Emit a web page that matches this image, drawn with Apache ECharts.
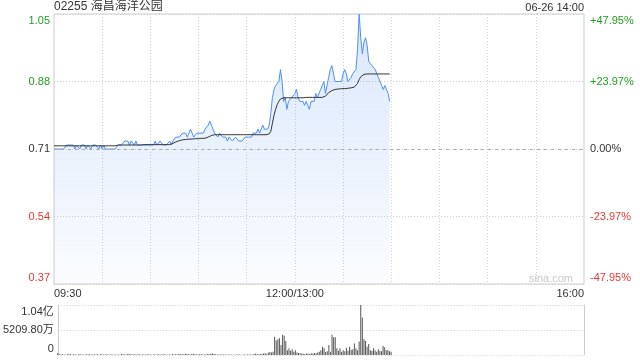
<!DOCTYPE html>
<html>
<head>
<meta charset="utf-8">
<script src="https://cdn.jsdelivr.net/npm/echarts@6/dist/echarts.min.js"></script>
<style>
html,body{margin:0;padding:0;background:#fff;}
#chart{width:640px;height:360px;}
</style>
</head>
<body>
<div id="chart"></div>
<script>
const PREV_CLOSE = 0.71;
const titleText = '02255 海昌海洋公园';
const dateText = '06-26 14:00';
const timeLabels = ['09:30', '12:00/13:00', '16:00'];
const priceLabels = ['0.37', '0.54', '0.71', '0.88', '1.05'];
const pctLabels = ['-47.95%', '-23.97%', '0.00%', '+23.97%', '+47.95%'];
const volLabels = ['0', '5209.80万', '1.04亿'];

const price = [
0.71,0.71,0.71,0.71,0.71,0.71,0.71,0.71,0.72,0.72,
0.72,0.72,0.72,0.71,0.72,0.72,0.71,0.72,0.72,0.72,
0.71,0.72,0.72,0.71,0.72,0.72,0.72,0.72,0.71,0.72,
0.71,0.72,0.71,0.71,0.71,0.71,0.71,0.71,0.71,0.71,
0.72,0.72,0.72,0.72,0.73,0.73,0.73,0.72,0.73,0.73,
0.72,0.73,0.72,0.72,0.72,0.72,0.72,0.72,0.72,0.72,
0.72,0.72,0.72,0.73,0.72,0.72,0.73,0.73,0.72,0.72,
0.72,0.72,0.73,0.72,0.73,0.73,0.74,0.74,0.74,0.74,
0.75,0.75,0.75,0.74,0.75,0.76,0.75,0.74,0.74,0.75,
0.75,0.75,0.75,0.75,0.76,0.76,0.77,0.78,0.77,0.76,
0.75,0.75,0.74,0.75,0.75,0.74,0.74,0.74,0.73,0.74,
0.74,0.73,0.73,0.74,0.74,0.73,0.73,0.73,0.73,0.74,
0.74,0.74,0.74,0.74,0.75,0.75,0.75,0.76,0.75,0.76,
0.77,0.76,0.76,0.76,0.77,0.80,0.84,0.86,0.87,0.87,
0.88,0.91,0.88,0.83,0.84,0.81,0.83,0.83,0.84,0.84,
0.85,0.86,0.84,0.83,0.83,0.83,0.82,0.83,0.82,0.81,
0.83,0.83,0.83,0.85,0.84,0.84,0.86,0.87,0.88,0.85,
0.85,0.89,0.91,0.92,0.92,0.88,0.88,0.88,0.88,0.88,
0.90,0.91,0.90,0.88,0.88,0.89,0.90,0.90,0.91,0.96,
1.05,0.99,0.95,0.98,0.99,0.97,0.93,0.93,0.92,0.92,
0.91,0.91,0.89,0.89,0.87,0.86,0.87,0.87,0.85,0.83
];

const avgPrice = [
0.718,0.718,0.718,0.718,0.718,0.718,0.718,0.718,0.718,0.718,
0.718,0.718,0.718,0.718,0.718,0.718,0.718,0.718,0.718,0.718,
0.718,0.718,0.718,0.718,0.718,0.718,0.718,0.718,0.718,0.718,
0.718,0.718,0.718,0.718,0.718,0.718,0.718,0.718,0.718,0.718,
0.720,0.720,0.720,0.720,0.720,0.720,0.720,0.720,0.720,0.720,
0.720,0.720,0.720,0.720,0.720,0.720,0.721,0.721,0.721,0.721,
0.721,0.721,0.721,0.721,0.721,0.721,0.721,0.721,0.721,0.721,
0.721,0.721,0.721,0.723,0.724,0.726,0.728,0.730,0.731,0.732,
0.733,0.733,0.734,0.734,0.735,0.735,0.735,0.736,0.736,0.736,
0.736,0.737,0.737,0.737,0.737,0.738,0.740,0.742,0.744,0.745,
0.746,0.746,0.746,0.746,0.746,0.746,0.746,0.746,0.746,0.746,
0.746,0.746,0.746,0.746,0.746,0.746,0.746,0.746,0.746,0.746,
0.746,0.746,0.746,0.746,0.746,0.746,0.746,0.746,0.746,0.746,
0.746,0.746,0.746,0.746,0.748,0.755,0.775,0.795,0.810,0.822,
0.830,0.836,0.838,0.839,0.839,0.839,0.839,0.839,0.839,0.839,
0.839,0.839,0.839,0.839,0.839,0.839,0.840,0.840,0.840,0.840,
0.840,0.840,0.840,0.840,0.840,0.840,0.840,0.840,0.840,0.843,
0.848,0.852,0.855,0.857,0.858,0.860,0.860,0.861,0.861,0.862,
0.862,0.862,0.863,0.863,0.863,0.864,0.864,0.866,0.868,0.875,
0.885,0.892,0.896,0.898,0.899,0.899,0.899,0.899,0.899,0.899,
0.899,0.899,0.899,0.899,0.899,0.899,0.899,0.899,0.899,0.899
];

// volume in 万 (10,000 shares)
const volume = [
420,150,90,180,60,120,80,210,140,70,
160,90,50,130,200,70,110,60,150,90,
180,60,120,80,100,150,70,190,60,110,
90,140,60,80,120,50,100,70,130,60,
200,150,90,120,260,180,140,90,170,110,
80,160,70,120,90,60,140,80,110,70,
90,130,60,180,80,100,150,170,70,90,
110,60,190,80,150,120,230,180,140,160,
250,200,170,130,190,260,150,120,110,170,
140,120,100,90,210,180,240,320,200,150,
130,110,90,120,100,80,70,90,60,80,
70,60,90,80,100,70,60,80,70,90,
110,100,130,150,250,180,160,200,220,300,
350,200,450,600,500,700,3800,3000,3300,3500,
2100,4200,4000,2900,1000,1400,900,1200,700,1000,
500,400,350,300,250,200,300,250,200,350,
300,400,350,500,700,1000,1700,1400,600,800,
2100,700,4200,3700,3700,1400,900,1400,700,1000,
800,1500,900,1700,1100,1200,2400,1400,1000,2800,
10419.6,7800,3300,2900,1700,2300,1000,850,1400,1000,
700,1200,900,800,1900,1600,1000,1050,800,700
];

const PRICE_STEP = 0.17;
const VOL_STEP = 5209.8;
const TOTAL_POINTS = 331; // 09:30-12:00 and 13:01-16:00
const LABEL_IDX = [0, 150, 330];

const categories = [];
for (let i = 0; i < TOTAL_POINTS; i++) {
  let m = i <= 150 ? 9 * 60 + 30 + i : 13 * 60 + (i - 150);
  const hh = String(Math.floor(m / 60)).padStart(2, '0');
  const mm = String(m % 60).padStart(2, '0');
  categories.push(hh + ':' + mm);
}

const priceOffset = price.map(p => +(p - PREV_CLOSE).toFixed(4));
const avgOffset = avgPrice.map(p => +(p - PREV_CLOSE).toFixed(4));

const GREEN = '#1f9f1f';
const RED = '#e53935';
const FONT = '"Liberation Sans", Arial, "Noto Sans CJK SC", sans-serif';

function priceIdx(v) { return Math.round(v / PRICE_STEP) + 2; }
function styleKey(i) {
  const pos = i === 4 ? 't' : (i === 0 ? 'b' : 'm');
  const col = i > 2 ? 'g' : (i < 2 ? 'r' : 'k');
  return pos + col;
}
const richBase = {};
['t', 'm', 'b'].forEach(p => {
  [['g', GREEN], ['r', RED], ['k', '#333']].forEach(([c, color]) => {
    richBase[p + c] = {
      color: color, fontSize: 11, fontFamily: FONT,
      padding: p === 't' ? [13, 0, 0, 0] : (p === 'b' ? [0, 0, 13, 0] : 0)
    };
  });
});

const chart = echarts.init(document.getElementById('chart'), null, {renderer: 'canvas'});
chart.setOption({
  animation: false,
  textStyle: {fontFamily: FONT},
  title: [
    {text: titleText, left: 54, top: 1, padding: 0,
     textStyle: {fontSize: 12, fontWeight: 'normal', color: '#333', fontFamily: FONT}},
    {text: dateText, right: 56, top: 2, padding: 0,
     textStyle: {fontSize: 11, fontWeight: 'normal', color: '#333', fontFamily: FONT}}
  ],
  graphic: [
    {type: 'text', right: 67, top: 273, silent: true,
     style: {text: 'sina.com', fill: '#c8c8c8', fontSize: 11, fontFamily: FONT}}
  ],
  grid: [
    {left: 54, right: 56, top: 14, height: 270, show: true, borderColor: '#cccccc', borderWidth: 1},
    {left: 54, right: 56, top: 305, height: 50}
  ],
  xAxis: [
    {
      type: 'category', gridIndex: 0, data: categories, boundaryGap: false,
      axisLine: {show: false}, axisTick: {show: false},
      axisLabel: {
        interval: (i) => LABEL_IDX.indexOf(i) >= 0,
        formatter: (v, i) => timeLabels[LABEL_IDX.indexOf(i)] || '',
        color: '#333', fontSize: 11, margin: 4, fontFamily: FONT,
        showMinLabel: true, showMaxLabel: true,
        alignMinLabel: 'left', alignMaxLabel: 'right'
      },
      splitLine: {
        show: true,
        interval: (i) => i > 0 && i < 330 && i % 30 === 0,
        lineStyle: {color: '#cfcfcf', type: [1, 2], width: 1}
      }
    },
    {
      type: 'category', gridIndex: 1, data: categories, boundaryGap: false,
      axisLine: {show: false}, axisTick: {show: false}, axisLabel: {show: false},
      splitLine: {show: false}
    }
  ],
  yAxis: [
    {
      type: 'value', gridIndex: 0, position: 'left',
      min: -0.34, max: 0.34, interval: PRICE_STEP,
      axisLine: {show: false}, axisTick: {show: false},
      axisLabel: {
        margin: 4,
        formatter: (v) => { const i = priceIdx(v); return '{' + styleKey(i) + '|' + priceLabels[i] + '}'; },
        rich: richBase
      },
      splitLine: {show: true, lineStyle: {color: '#cfcfcf', type: [1, 2], width: 1}}
    },
    {
      type: 'value', gridIndex: 0, position: 'right',
      min: -0.34, max: 0.34, interval: PRICE_STEP,
      axisLine: {show: false}, axisTick: {show: false},
      axisLabel: {
        margin: 6,
        formatter: (v) => { const i = priceIdx(v); return '{' + styleKey(i) + '|' + pctLabels[i] + '}'; },
        rich: richBase
      },
      splitLine: {show: false}
    },
    {
      type: 'value', gridIndex: 1, position: 'left',
      min: 0, max: 10419.6, interval: VOL_STEP,
      axisLine: {show: true, lineStyle: {color: '#cccccc'}}, axisTick: {show: false},
      axisLabel: {
        margin: 4,
        formatter: (v) => {
          const i = Math.round(v / VOL_STEP);
          const k = i === 2 ? 'tk' : (i === 0 ? 'bk' : 'mk');
          return '{' + k + '|' + volLabels[i] + '}';
        },
        rich: {
          tk: {color: '#333', fontSize: 11, fontFamily: FONT, padding: [13, 0, 0, 0]},
          mk: {color: '#333', fontSize: 11, fontFamily: FONT},
          bk: {color: '#333', fontSize: 11, fontFamily: FONT, padding: [0, 0, 13, 0]}
        }
      },
      splitLine: {show: true, lineStyle: {color: '#cfcfcf', type: [1, 2], width: 1}}
    },
    {
      type: 'value', gridIndex: 1, position: 'right',
      min: 0, max: 10419.6, interval: VOL_STEP,
      axisLine: {show: true, lineStyle: {color: '#cccccc'}}, axisTick: {show: false},
      axisLabel: {show: false}, splitLine: {show: false}
    }
  ],
  series: [
    {
      name: 'price', type: 'line', xAxisIndex: 0, yAxisIndex: 0,
      data: priceOffset, showSymbol: false, symbol: 'none',
      lineStyle: {color: '#4f8ef0', width: 1},
      areaStyle: {
        origin: 'start',
        color: new echarts.graphic.LinearGradient(0, 0, 0, 1, [
          {offset: 0, color: 'rgba(79,142,240,0.30)'},
          {offset: 1, color: 'rgba(79,142,240,0.04)'}
        ])
      },
      markLine: {
        silent: true, symbol: 'none', label: {show: false},
        lineStyle: {color: '#aaaaaa', type: [3, 4], width: 1},
        data: [{yAxis: 0}]
      },
      z: 3
    },
    {
      name: 'avg', type: 'line', xAxisIndex: 0, yAxisIndex: 0,
      data: avgOffset, showSymbol: false, symbol: 'none',
      lineStyle: {color: '#333333', width: 1}, z: 4
    },
    {
      name: 'volume', type: 'bar', xAxisIndex: 1, yAxisIndex: 2,
      data: volume, barWidth: 1, itemStyle: {color: '#555555'}
    }
  ]
});
</script>
</body>
</html>
